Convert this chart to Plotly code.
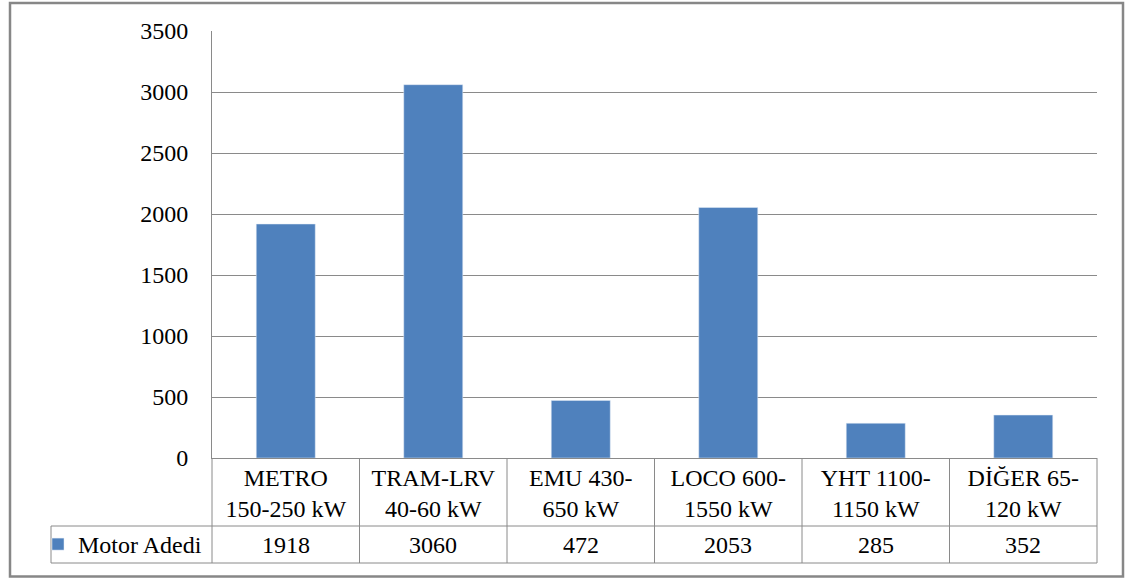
import plotly.graph_objects as go

# Motor counts by vehicle type (power range split over two label lines)
category_lines = [
    ("METRO", "150-250 kW"),
    ("TRAM-LRV", "40-60 kW"),
    ("EMU 430-", "650 kW"),
    ("LOCO 600-", "1550 kW"),
    ("YHT 1100-", "1150 kW"),
    ("DİĞER 65-", "120 kW"),
]
motor_counts = [1918, 3060, 472, 2053, 285, 352]
series_name = "Motor Adedi"
y_ticks = [0, 500, 1000, 1500, 2000, 2500, 3000, 3500]

W, H = 1132, 580
L, R, T, B = 212, 35, 31, 122
PW, PH = W - L - R, H - T - B

BLUE = "#4F81BD"
GRID = "#8A8A8A"
FONT = dict(family="Liberation Serif", size=24, color="#000000")


def px_x(x):
    return (x - L) / PW


def px_y(y):
    return (H - B - y) / PH


n = len(category_lines)
idx = list(range(n))
labels = ["<br>".join(pair) for pair in category_lines]

fig = go.Figure()
fig.add_trace(go.Bar(x=idx, y=motor_counts, marker_color=BLUE, name=series_name,
                     showlegend=True))

# Data table geometry (row boundaries in pixels)
row1_bottom = 526
row2_bottom = 563
legend_left = 51

shapes = []
line = dict(color=GRID, width=1)
# horizontal rules of the data table
for yy in (row1_bottom, row2_bottom):
    shapes.append(dict(type="line", xref="paper", yref="paper",
                       x0=px_x(legend_left), x1=1, y0=px_y(yy), y1=px_y(yy), line=line))
# vertical dividers between categories
for k in range(n + 1):
    shapes.append(dict(type="line", xref="x domain", yref="paper",
                       x0=k / n, x1=k / n, y0=0, y1=px_y(row2_bottom), line=line))
# left edge of the series-name cell
shapes.append(dict(type="line", xref="paper", yref="paper",
                   x0=px_x(legend_left), x1=px_x(legend_left),
                   y0=px_y(row1_bottom), y1=px_y(row2_bottom), line=line))
# outer chart border
shapes.append(dict(type="rect", xref="paper", yref="paper",
                   x0=px_x(10), x1=px_x(1123), y0=px_y(3), y1=px_y(576.5),
                   line=dict(color="#878787", width=2.5)))

# value row of the data table
row2_mid = (row1_bottom + row2_bottom) / 2
annotations = [
    dict(x=i, y=px_y(row2_mid), xref="x", yref="paper", text=str(v),
         showarrow=False, font=FONT, xanchor="center", yanchor="middle")
    for i, v in zip(idx, motor_counts)
]

fig.update_layout(
    width=W, height=H,
    margin=dict(l=L, r=R, t=T, b=B),
    paper_bgcolor="white", plot_bgcolor="white",
    font=FONT,
    bargap=0.6,
    shapes=shapes,
    annotations=annotations,
    legend=dict(x=px_x(38), y=px_y(row2_mid), xanchor="left", yanchor="middle",
                font=FONT, bgcolor="rgba(0,0,0,0)", borderwidth=0),
    xaxis=dict(tickvals=idx, ticktext=labels, range=[-0.5, n - 0.5],
               showgrid=False, showline=True, linecolor=GRID, linewidth=1,
               ticks="", tickfont=FONT, ticklabelstandoff=-2, zeroline=False),
    yaxis=dict(range=[0, 3500], tickvals=y_ticks, showgrid=True, gridcolor=GRID,
               gridwidth=1, showline=True, linecolor=GRID, linewidth=1,
               ticks="", tickfont=FONT, ticklabelstandoff=18, zeroline=False),
)

fig.write_html("out.html")
